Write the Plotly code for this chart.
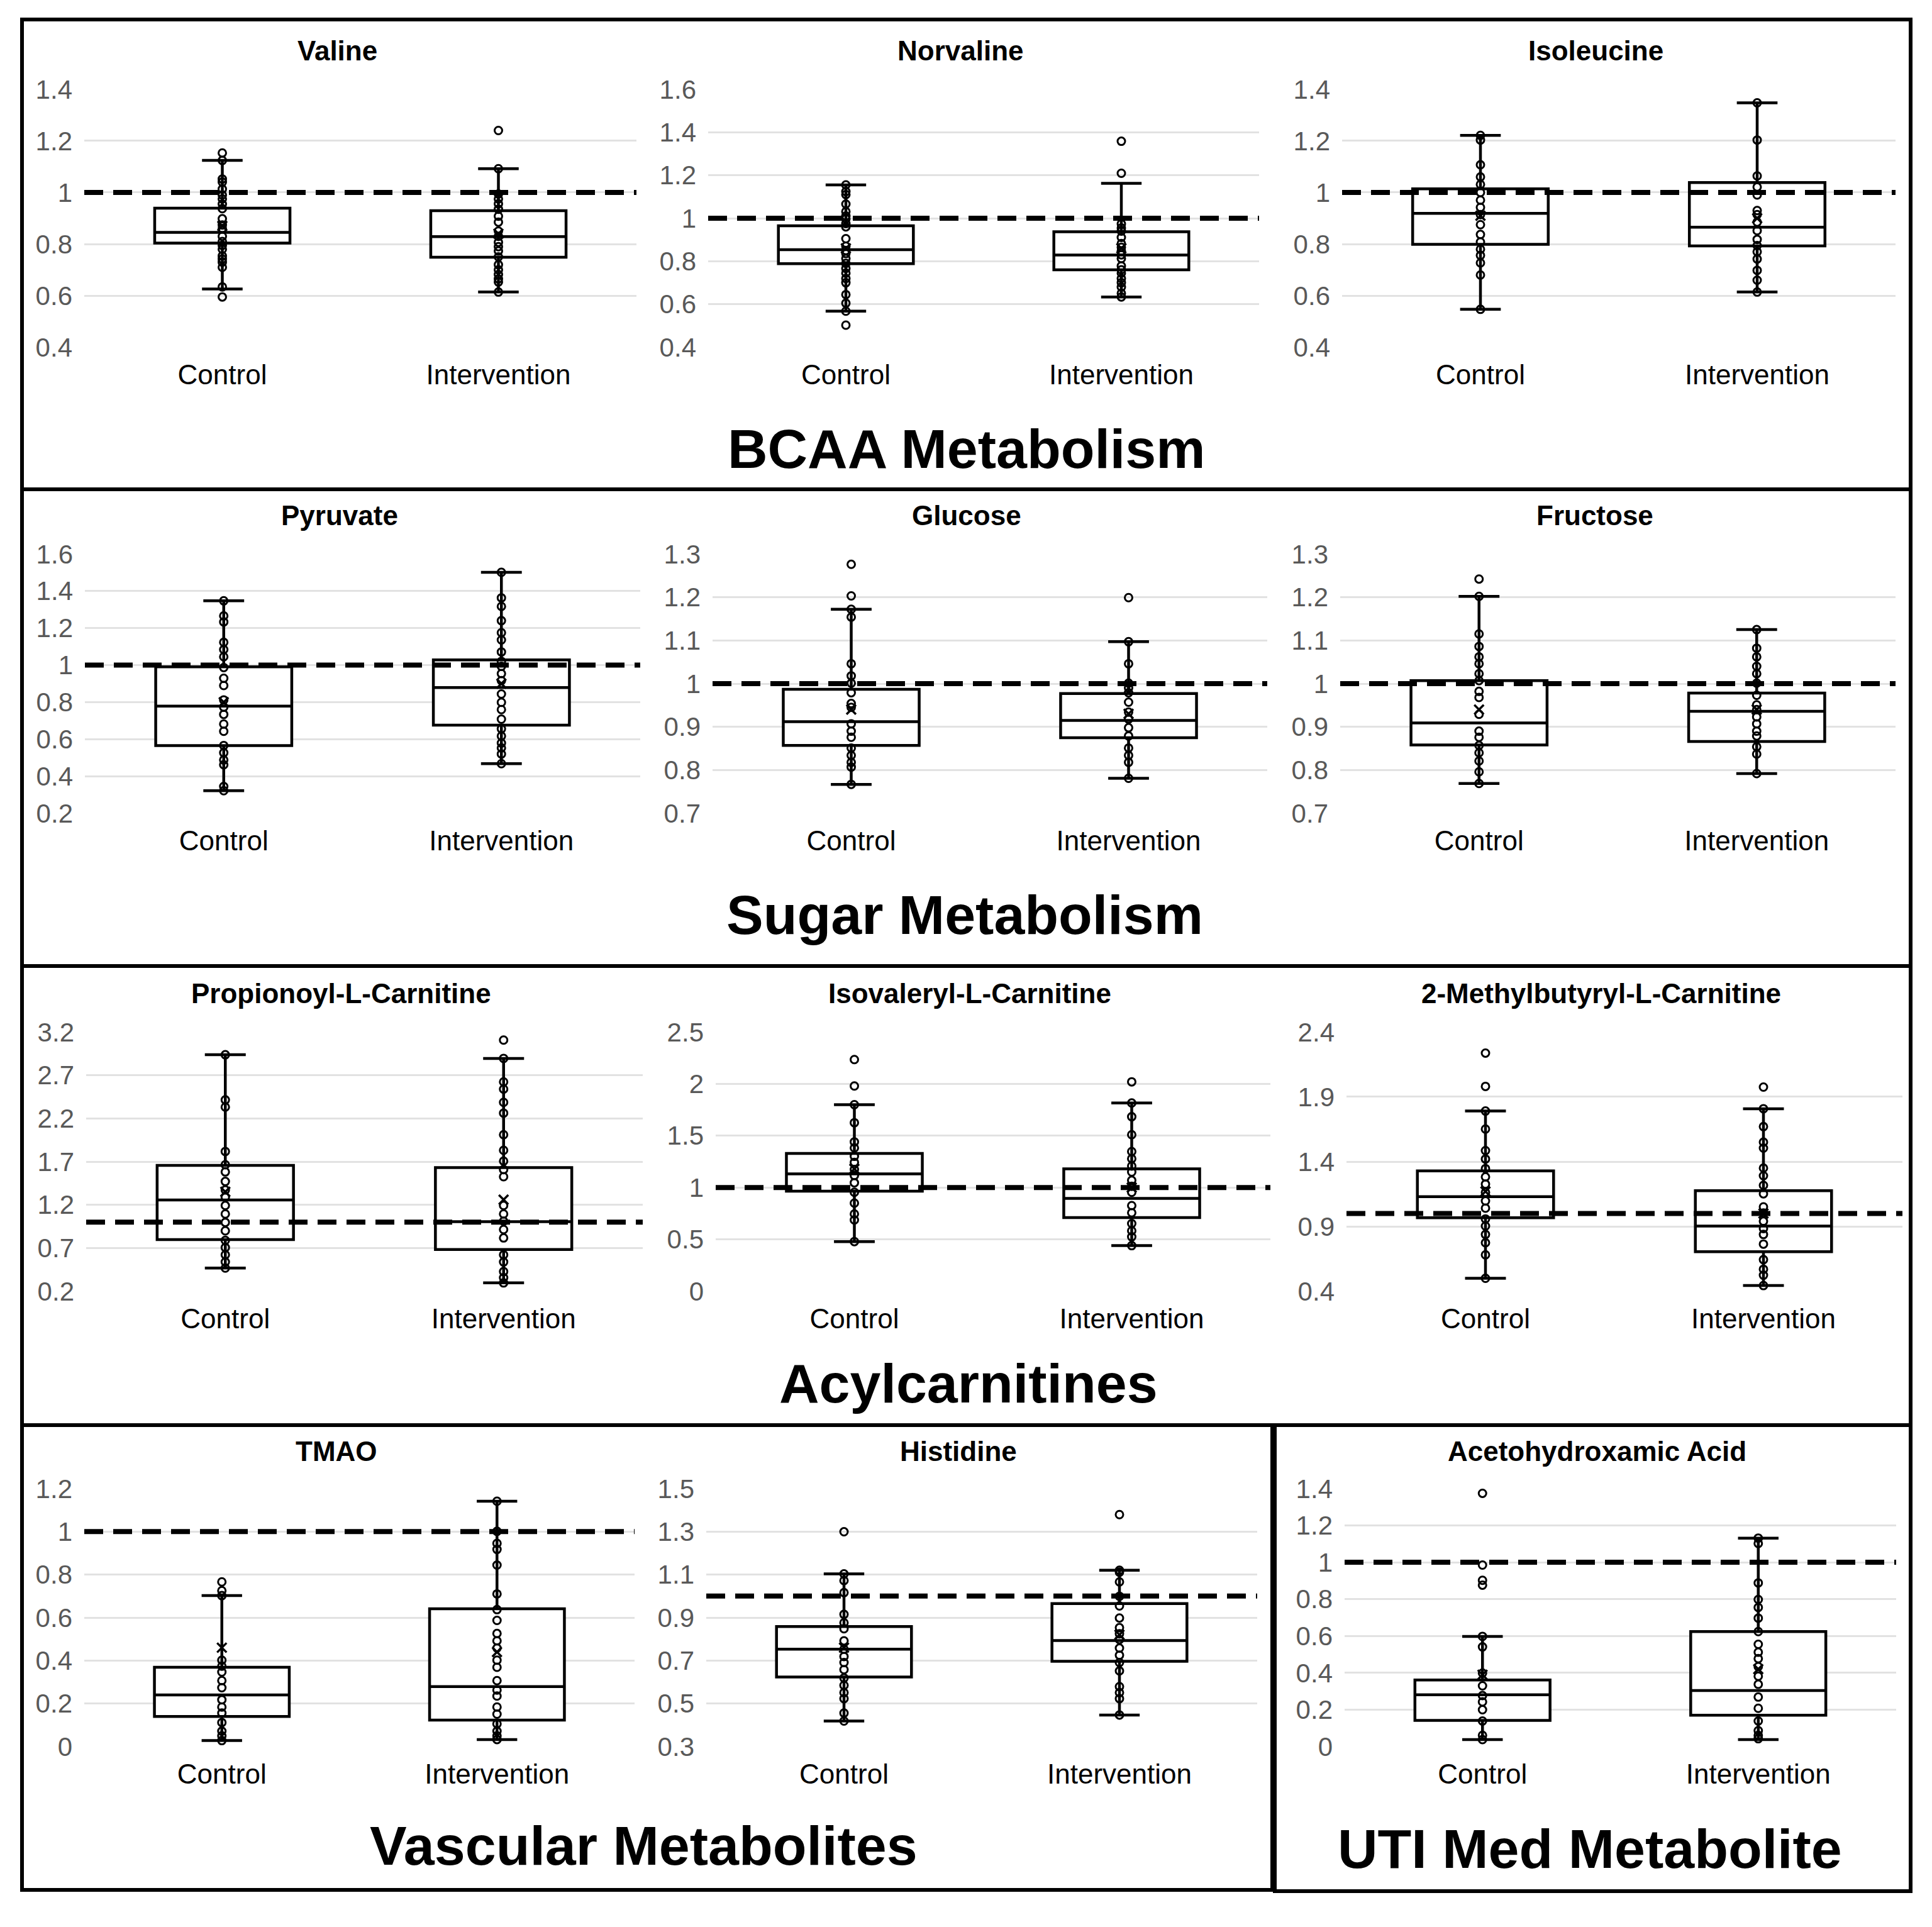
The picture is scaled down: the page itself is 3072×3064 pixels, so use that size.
"""
Box-and-whisker grid of metabolite ratios (Control vs Intervention),
grouped by pathway, with the 1.0 reference level dashed across each panel.
"""

import plotly.graph_objects as go

W, H = 3072, 3064
FONT = "Liberation Sans"

# ---- data --------------------------------------------------------------
GROUPS = ["Control", "Intervention"]

PANEL_TITLES = [
    "Valine", "Norvaline", "Isoleucine",
    "Pyruvate", "Glucose", "Fructose",
    "Propionoyl-L-Carnitine", "Isovaleryl-L-Carnitine", "2-Methylbutyryl-L-Carnitine",
    "TMAO", "Histidine", "Acetohydroxamic Acid",
]

SECTION_TITLES = [
    "BCAA Metabolism", "Sugar Metabolism", "Acylcarnitines",
    "Vascular Metabolites", "UTI Med Metabolite",
]

Y_MIN = [0.4, 0.4, 0.4, 0.2, 0.7, 0.7, 0.2, 0.0, 0.4, 0.0, 0.3, 0.0]
Y_MAX = [1.4, 1.6, 1.4, 1.6, 1.3, 1.3, 3.2, 2.5, 2.4, 1.2, 1.5, 1.4]
Y_STEP = [0.2, 0.2, 0.2, 0.2, 0.1, 0.1, 0.5, 0.5, 0.5, 0.2, 0.2, 0.2]

REFERENCE_LEVEL = 1.0

CONTROL_LOW = [0.626, 0.568, 0.547, 0.322, 0.767, 0.769, 0.469, 0.479, 0.500, 0.028, 0.419, 0.038]
CONTROL_Q1 = [0.804, 0.789, 0.799, 0.566, 0.857, 0.858, 0.797, 0.965, 0.967, 0.140, 0.624, 0.142]
CONTROL_MEDIAN = [0.845, 0.854, 0.919, 0.779, 0.912, 0.909, 1.256, 1.132, 1.130, 0.240, 0.753, 0.281]
CONTROL_Q3 = [0.939, 0.965, 1.014, 0.991, 0.987, 1.007, 1.656, 1.329, 1.328, 0.369, 0.858, 0.361]
CONTROL_HIGH = [1.124, 1.155, 1.221, 1.347, 1.172, 1.202, 2.936, 1.799, 1.790, 0.702, 1.103, 0.598]
CONTROL_MEAN = [0.870, 0.860, 0.910, 0.800, 0.940, 0.940, 1.350, 1.180, 1.170, 0.460, 0.760, 0.390]

INTERVENTION_LOW = [0.614, 0.634, 0.614, 0.468, 0.781, 0.792, 0.297, 0.440, 0.444, 0.033, 0.447, 0.038]
INTERVENTION_Q1 = [0.749, 0.760, 0.793, 0.676, 0.875, 0.866, 0.683, 0.711, 0.705, 0.123, 0.697, 0.170]
INTERVENTION_MEDIAN = [0.829, 0.829, 0.865, 0.879, 0.915, 0.936, 1.006, 0.896, 0.903, 0.279, 0.793, 0.304]
INTERVENTION_Q3 = [0.929, 0.937, 1.038, 1.028, 0.977, 0.978, 1.631, 1.181, 1.176, 0.641, 0.965, 0.624]
INTERVENTION_HIGH = [1.092, 1.162, 1.347, 1.501, 1.097, 1.125, 2.894, 1.815, 1.808, 1.141, 1.120, 1.131]
INTERVENTION_MEAN = [0.840, 0.860, 0.900, 0.900, 0.930, 0.940, 1.260, 1.000, 1.000, 0.440, 0.820, 0.420]

CONTROL_POINTS = [
    [1.153, 1.124, 1.052, 1.040, 1.013, 0.990, 0.975, 0.955, 0.937, 0.898, 0.874, 0.860,
     0.830, 0.810, 0.795, 0.780, 0.754, 0.742, 0.730, 0.710, 0.634, 0.595],
    [1.155, 1.124, 1.110, 1.066, 1.031, 1.010, 0.997, 0.975, 0.960, 0.905, 0.870, 0.850,
     0.836, 0.813, 0.790, 0.767, 0.745, 0.720, 0.700, 0.645, 0.605, 0.568, 0.503],
    [1.221, 1.203, 1.107, 1.060, 1.031, 1.000, 0.970, 0.942, 0.914, 0.875, 0.837, 0.808,
     0.780, 0.756, 0.727, 0.680, 0.547],
    [1.347, 1.266, 1.233, 1.123, 1.084, 1.045, 0.987, 0.929, 0.890, 0.812, 0.773, 0.734,
     0.682, 0.643, 0.566, 0.527, 0.488, 0.462, 0.345, 0.322],
    [1.276, 1.203, 1.172, 1.154, 1.046, 1.018, 1.001, 0.979, 0.954, 0.945, 0.907, 0.890,
     0.876, 0.851, 0.834, 0.818, 0.807, 0.767],
    [1.242, 1.202, 1.115, 1.086, 1.062, 1.046, 1.023, 1.007, 0.982, 0.968, 0.929, 0.890,
     0.876, 0.857, 0.840, 0.821, 0.796, 0.769],
    [2.936, 2.414, 2.331, 1.817, 1.664, 1.581, 1.470, 1.372, 1.289, 1.192, 1.094, 0.997,
     0.900, 0.789, 0.706, 0.622, 0.539, 0.469],
    [2.234, 1.979, 1.799, 1.625, 1.440, 1.382, 1.301, 1.243, 1.174, 1.116, 1.046, 0.954,
     0.850, 0.745, 0.688, 0.479],
    [2.237, 1.980, 1.790, 1.651, 1.485, 1.420, 1.346, 1.282, 1.226, 1.162, 1.097, 1.041,
     0.958, 0.903, 0.838, 0.774, 0.681, 0.500],
    [0.766, 0.725, 0.702, 0.402, 0.374, 0.347, 0.307, 0.274, 0.218, 0.184, 0.156, 0.112,
     0.072, 0.050, 0.028],
    [1.299, 1.103, 1.072, 1.016, 0.915, 0.876, 0.848, 0.792, 0.753, 0.719, 0.691, 0.658,
     0.619, 0.585, 0.551, 0.523, 0.456, 0.419],
    [1.374, 0.985, 0.902, 0.876, 0.598, 0.541, 0.399, 0.330, 0.277, 0.243, 0.200, 0.139,
     0.061, 0.038],
]

INTERVENTION_POINTS = [
    [1.240, 1.092, 0.994, 0.975, 0.956, 0.935, 0.908, 0.885, 0.850, 0.830, 0.807, 0.790,
     0.773, 0.750, 0.720, 0.700, 0.682, 0.665, 0.653, 0.614],
    [1.358, 1.209, 0.974, 0.955, 0.940, 0.911, 0.882, 0.865, 0.848, 0.830, 0.813, 0.778,
     0.760, 0.745, 0.720, 0.700, 0.680, 0.651, 0.634],
    [1.347, 1.203, 1.064, 1.021, 0.990, 0.930, 0.914, 0.885, 0.852, 0.818, 0.794, 0.770,
     0.742, 0.698, 0.660, 0.614],
    [1.501, 1.363, 1.317, 1.240, 1.175, 1.136, 1.071, 1.020, 0.993, 0.954, 0.916, 0.844,
     0.799, 0.760, 0.708, 0.656, 0.617, 0.579, 0.553, 0.520, 0.468],
    [1.199, 1.097, 1.046, 1.001, 0.990, 0.979, 0.957, 0.934, 0.918, 0.898, 0.879, 0.851,
     0.834, 0.818, 0.781],
    [1.125, 1.082, 1.062, 1.040, 1.023, 1.001, 0.973, 0.951, 0.940, 0.923, 0.907, 0.890,
     0.879, 0.854, 0.837, 0.792],
    [3.106, 2.894, 2.622, 2.539, 2.386, 2.261, 2.011, 1.831, 1.706, 1.608, 1.525, 1.192,
     1.094, 1.011, 0.914, 0.817, 0.622, 0.539, 0.428, 0.358, 0.297],
    [2.019, 1.815, 1.683, 1.509, 1.347, 1.278, 1.208, 1.150, 1.069, 1.012, 0.954, 0.826,
     0.757, 0.653, 0.583, 0.525, 0.440],
    [1.975, 1.808, 1.670, 1.550, 1.504, 1.350, 1.291, 1.217, 1.152, 1.051, 1.004, 0.940,
     0.884, 0.838, 0.764, 0.644, 0.570, 0.524, 0.444],
    [1.141, 1.001, 0.945, 0.917, 0.844, 0.710, 0.637, 0.587, 0.526, 0.492, 0.458, 0.402,
     0.369, 0.307, 0.263, 0.235, 0.184, 0.151, 0.106, 0.072, 0.050, 0.033],
    [1.379, 1.120, 1.111, 1.066, 0.999, 0.954, 0.898, 0.853, 0.825, 0.798, 0.758, 0.725,
     0.691, 0.652, 0.579, 0.551, 0.523, 0.447],
    [1.131, 1.102, 0.888, 0.798, 0.755, 0.697, 0.624, 0.555, 0.512, 0.477, 0.434, 0.382,
     0.338, 0.269, 0.208, 0.139, 0.087, 0.061, 0.043],
]

# ---- layout geometry (pixels as measured on the reference page) ----------
PLOT_ROWS = [(141, 553), (880, 1294), (1640, 2054), (2366, 2778)]
PLOT_COLS = [
    [(134, 1012), (1126, 2002), (2134, 3014)],
    [(135, 1018), (1133, 2015), (2131, 3014)],
    [(137, 1022), (1138, 2020), (2141, 3025)],
    [(134, 1009), (1123, 1999), (2138, 3015)],
]
TITLE_Y = [81, 820, 1580, 2307]
SECTION_POS = [(1536, 713), (1534, 1454), (1540, 2199), (1023, 2934), (2528, 2939)]
FRAMES = [
    (35, 31, 3038, 778),
    (35, 778, 3038, 1536),
    (35, 1536, 3038, 2266),
    (35, 2266, 2023, 3005),
    (2027, 2266, 3038, 3007),
]

# the page body adds an 8px offset to the figure; compensate for it
X_SHIFT = -8
Y_SHIFT = -8


def fx(px):
    return (px + X_SHIFT) / W


def fy(py):
    return 1 - (py + Y_SHIFT) / H


fig = go.Figure()
layout = {}
shapes = []
annotations = []

for k, title in enumerate(PANEL_TITLES):
    row, col = divmod(k, 3)
    top, bottom = PLOT_ROWS[row]
    left, right = PLOT_COLS[row][col]
    i = k + 1
    xname = "x" if i == 1 else f"x{i}"
    yname = "y" if i == 1 else f"y{i}"

    stats = [
        (CONTROL_LOW[k], CONTROL_Q1[k], CONTROL_MEDIAN[k], CONTROL_Q3[k],
         CONTROL_HIGH[k], CONTROL_MEAN[k], CONTROL_POINTS[k]),
        (INTERVENTION_LOW[k], INTERVENTION_Q1[k], INTERVENTION_MEDIAN[k],
         INTERVENTION_Q3[k], INTERVENTION_HIGH[k], INTERVENTION_MEAN[k],
         INTERVENTION_POINTS[k]),
    ]

    for g, (lo, q1, med, q3, hi, mean, pts) in enumerate(stats):
        fig.add_trace(go.Box(
            x=[g], q1=[q1], median=[med], q3=[q3],
            lowerfence=[lo], upperfence=[hi],
            orientation="v", width=0.49, whiskerwidth=0.3,
            fillcolor="white", line=dict(color="black", width=4.5),
            boxpoints=False, showlegend=False, hoverinfo="skip",
            xaxis=xname, yaxis=yname,
        ))
        fig.add_trace(go.Scatter(
            x=[g] * len(pts), y=pts, mode="markers",
            marker=dict(symbol="circle-open", size=12, color="black",
                        line=dict(width=3)),
            showlegend=False, hoverinfo="skip",
            xaxis=xname, yaxis=yname,
        ))
        fig.add_trace(go.Scatter(
            x=[g], y=[mean], mode="markers",
            marker=dict(symbol="x-thin-open", size=15, color="black",
                        line=dict(width=3.5)),
            showlegend=False, hoverinfo="skip",
            xaxis=xname, yaxis=yname,
        ))

    span = Y_MAX[k] - Y_MIN[k]
    layout["xaxis" if i == 1 else f"xaxis{i}"] = dict(
        domain=[fx(left), fx(right)], anchor=yname,
        range=[-0.5, 1.5], tickvals=[0, 1], ticktext=GROUPS,
        showgrid=False, zeroline=False, showline=False, ticks="",
        tickfont=dict(family=FONT, size=44, color="black"),
        ticklabelstandoff=13, fixedrange=True, automargin=False,
    )
    layout["yaxis" if i == 1 else f"yaxis{i}"] = dict(
        domain=[fy(bottom), fy(top)], anchor=xname,
        range=[Y_MIN[k] - span * 0.002, Y_MAX[k] + span * 0.002],
        tick0=Y_MIN[k], dtick=Y_STEP[k],
        showgrid=True, gridcolor="#e2e2e2", gridwidth=3,
        zeroline=False, showline=False, ticks="",
        tickfont=dict(family=FONT, size=42, color="#595959"),
        ticklabelstandoff=18, fixedrange=True, automargin=False,
    )

    shapes.append(dict(
        type="line", xref=f"{xname} domain", yref=yname,
        x0=0, x1=1, y0=REFERENCE_LEVEL, y1=REFERENCE_LEVEL,
        line=dict(color="black", width=8, dash="30px,16px"), layer="above",
    ))

    annotations.append(dict(
        text=f"<b>{title}</b>", xref="paper", yref="paper",
        x=fx((left - 74 + right) / 2), y=fy(TITLE_Y[row]),
        xanchor="center", yanchor="middle", showarrow=False,
        font=dict(family=FONT, size=44, color="black"),
    ))

for text, (cx, cy) in zip(SECTION_TITLES, SECTION_POS):
    annotations.append(dict(
        text=f"<b>{text}</b>", xref="paper", yref="paper",
        x=fx(cx), y=fy(cy), xanchor="center", yanchor="middle",
        showarrow=False, font=dict(family=FONT, size=88, color="black"),
    ))

for x0, y0, x1, y1 in FRAMES:
    shapes.append(dict(
        type="rect", xref="paper", yref="paper",
        x0=fx(x0), x1=fx(x1), y0=fy(y0), y1=fy(y1),
        line=dict(color="black", width=6), layer="above",
    ))

fig.update_layout(
    **layout,
    shapes=shapes,
    annotations=annotations,
    width=W, height=H,
    margin=dict(l=0, r=0, t=0, b=0, autoexpand=False),
    paper_bgcolor="white", plot_bgcolor="white",
    font=dict(family=FONT),
    showlegend=False,
)

fig.write_html("out.html")
